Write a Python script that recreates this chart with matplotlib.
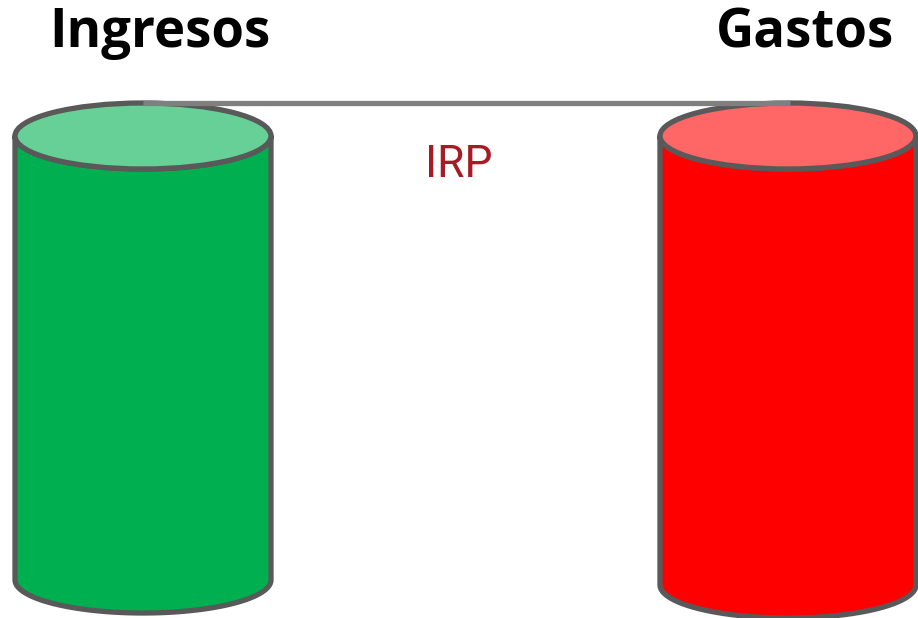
import numpy as np
import matplotlib
matplotlib.use("Agg")
import matplotlib.pyplot as plt
from matplotlib.patches import Ellipse, Polygon

categories = ["Ingresos", "Gastos"]
heights = [444, 449]          # cylinder heights (relative size)
body_colors = ["#00B050", "#FF0000"]
top_colors = ["#66D096", "#FF6666"]
link_label = "IRP"

fig = plt.figure(figsize=(9.18, 6.18), dpi=100)
ax = fig.add_axes([0, 0, 1, 1])
ax.set_xlim(0, 918)
ax.set_ylim(618, 0)
ax.axis("off")

centers = [143, 788]
half_w = 128
ry = 33
top_y = 136
edge = "#595959"

for cx, h, bc, tc, name in zip(centers, heights, body_colors, top_colors, categories):
    x0, x1 = cx - half_w, cx + half_w
    yb = top_y + h
    t = np.linspace(np.pi, 0, 100)
    arc_x = cx + half_w * np.cos(t)
    arc_y = yb + ry * np.sin(t)
    pts = [(x0, top_y), (x0, yb)] + list(zip(arc_x, arc_y)) + [(x1, yb), (x1, top_y)]
    t2 = np.linspace(0, np.pi, 100)
    pts += list(zip(cx + half_w * np.cos(t2), top_y + ry * np.sin(t2)))
    ax.add_patch(Polygon(pts, closed=True, facecolor=bc, edgecolor=edge, linewidth=3.8,
                         joinstyle="round", zorder=2))
    ax.add_patch(Ellipse((cx, top_y), 2 * half_w, 2 * ry, facecolor=tc, edgecolor=edge,
                         linewidth=3.8, zorder=3))

ax.plot([centers[0], centers[1] + 2], [top_y - ry, top_y - ry], color="#7F7F7F",
        linewidth=3.8, solid_capstyle="butt", zorder=4)

ax.text(160, 33, categories[0], ha="center", va="center", fontsize=38,
        fontweight="bold", family="Open Sans", color="black")
ax.text(805, 33, categories[1], ha="center", va="center", fontsize=38,
        fontweight="bold", family="Open Sans", color="black")
ax.text(459, 165, link_label, ha="center", va="center", fontsize=32,
        family="Roboto", color="#A51C24")

fig.savefig("out.png", dpi=100)
